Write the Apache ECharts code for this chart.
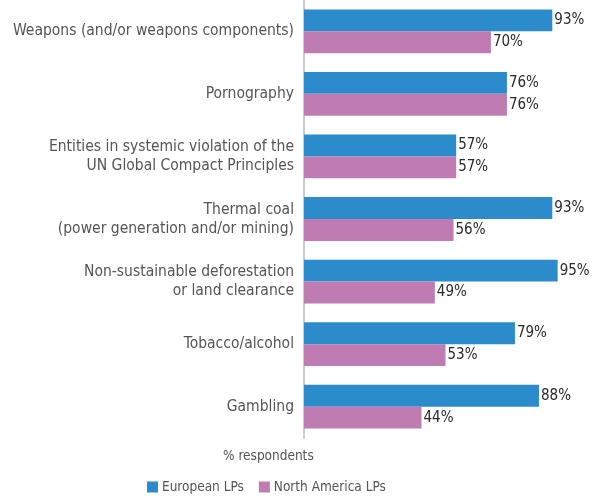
<!DOCTYPE html>
<html>
<head>
<meta charset="utf-8">
<script src="https://cdn.jsdelivr.net/npm/echarts@6/dist/echarts.min.js"></script>
<style>
  html, body { margin: 0; padding: 0; background: #fff; }
  #chart { width: 594px; height: 498px; }
</style>
</head>
<body>
<div id="chart"></div>
<script>
// Exclusion categories, top to bottom
const categories = [
  'Weapons (and/or weapons components)',
  'Pornography',
  'Entities in systemic violation of the\nUN Global Compact Principles',
  'Thermal coal\n(power generation and/or mining)',
  'Non-sustainable deforestation\nor land clearance',
  'Tobacco/alcohol',
  'Gambling'
];
const europeanLPs = [93, 76, 57, 93, 95, 79, 88];
const northAmericaLPs = [70, 76, 57, 56, 49, 53, 44];
const seriesNames = ['European LPs', 'North America LPs'];
const axisTitle = '% respondents';

const FONT = '"Liberation Sans Narrow", "DejaVu Sans Condensed", "Liberation Sans", sans-serif';
const BLUE = '#2b8bcb';
const PINK = '#bf7cb3';

const valueLabel = {
  show: true,
  position: 'right',
  distance: 2,
  formatter: p => p.value + '%',
  color: '#2a2a2a',
  fontFamily: FONT,
  fontSize: 15
};

const chart = echarts.init(document.getElementById('chart'), null, { renderer: 'canvas' });
chart.setOption({
  animation: false,
  textStyle: { fontFamily: FONT },
  grid: { left: 304, top: 0, width: 267, height: 438, containLabel: false, outerBoundsMode: 'none' },
  xAxis: {
    type: 'value',
    min: 0,
    max: 100,
    show: false
  },
  yAxis: {
    type: 'category',
    inverse: true,
    data: categories,
    axisTick: { show: false },
    axisLine: { show: true, lineStyle: { color: '#c8ccd0', width: 2 } },
    axisLabel: {
      margin: 10,
      color: '#555555',
      fontFamily: FONT,
      fontSize: 15.5,
      lineHeight: 19,
      align: 'right'
    }
  },
  legend: {
    left: 147,
    top: 480,
    padding: 0,
    itemWidth: 11,
    itemHeight: 11,
    itemGap: 15,
    icon: 'rect',
    textStyle: { color: '#555555', fontFamily: FONT, fontSize: 13.5, padding: [0, 0, 0, -1] },
    data: seriesNames
  },
  graphic: [{
    type: 'text',
    left: 223,
    top: 449,
    style: { text: axisTitle, fill: '#555555', font: '13.5px ' + FONT }
  }],
  series: [
    {
      name: seriesNames[0],
      type: 'bar',
      data: europeanLPs,
      itemStyle: { color: BLUE },
      barGap: '0%',
      barCategoryGap: '30%',
      label: valueLabel
    },
    {
      name: seriesNames[1],
      type: 'bar',
      data: northAmericaLPs,
      itemStyle: { color: PINK },
      barGap: '0%',
      barCategoryGap: '30%',
      label: valueLabel
    }
  ]
});
</script>
</body>
</html>
